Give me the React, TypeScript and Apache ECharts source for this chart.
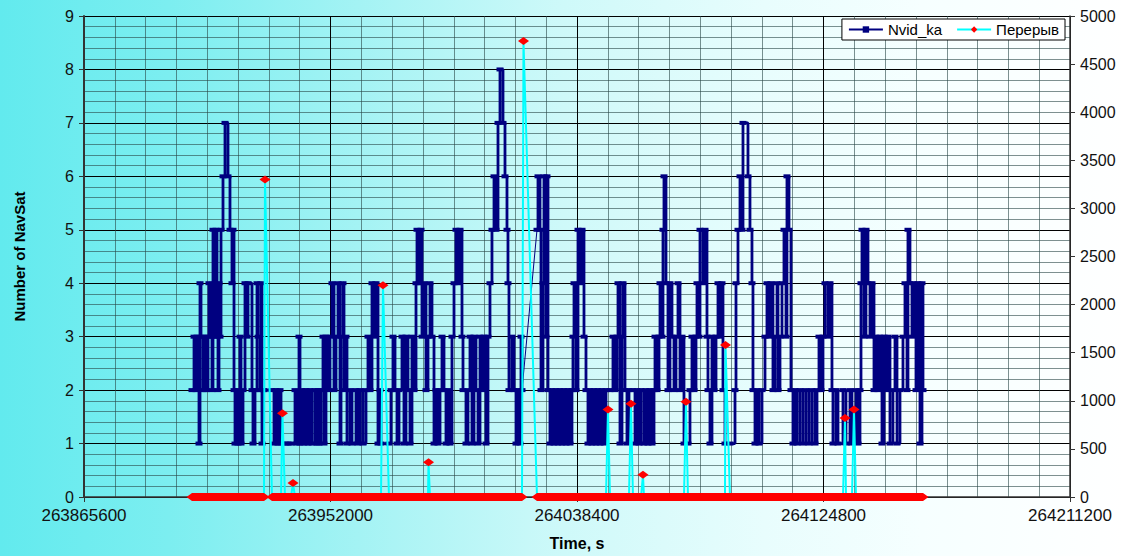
import React, { useEffect, useRef } from "react";
import * as echarts from "echarts";

// Time axis (seconds)
const T_START = 263865600;
const T_END = 264211200;
const T_INTERVAL = 86400;

// Nvid_ka: times as seconds after T_START, and number of visible satellites
// part before the data gap
const navOffsetsA = [
  37850, 38560, 39260, 39610, 40310, 40660, 41010, 41710, 42060, 42760, 43460, 43810, 44510, 44860, 45210, 45570,
  45920, 46270, 46620, 46970, 47320, 47670, 48020, 48720, 49420, 50470, 51170, 51870, 52220, 52580, 52930, 53630,
  53980, 54680, 55030, 55730, 56430, 57130, 57480, 58880, 59230, 59940, 60640, 60990, 61690, 62040, 62390, 62740,
  63090, 65890, 66600, 67300, 68000, 68700, 69050, 70450, 71500, 72550, 73960, 74660, 75360, 75710, 76410, 77110,
  77810, 78510, 79210, 79910, 80970, 81670, 82020, 82370, 83070, 83770, 84120, 84820, 85520, 86220, 86920, 87630,
  88330, 89030, 89730, 90080, 90780, 91130, 91830, 92180, 93230, 93930, 95340, 96040, 96740, 97790, 98840, 99540,
  100240, 100940, 101650, 102350, 103050, 103750, 104100, 106900, 107600, 108300, 109010, 109710, 110410, 111460,
  112160, 112860, 113560, 114260, 114960, 115670, 116370, 116720, 117420, 118120, 118470, 119170, 119870, 120570,
  121270, 121970, 122680, 123380, 124080, 124780, 125480, 126180, 126880, 127580, 128280, 128980, 129690, 130390,
  131090, 131790, 132490, 132840, 133890, 134590, 135290, 135990, 136700, 137400, 138100, 138800, 139500, 140200,
  140900, 141600, 142300, 143000, 143710, 144410, 145110, 145810, 146860, 147560, 148260, 148610, 148960, 150010,
  150720, 151420, 152120, 152820, 153170, 153520,
];
const navCountsA = [
  2, 3, 2, 3, 1, 4, 3, 2, 3, 2, 3, 4, 3, 2, 5, 3,
  4, 5, 3, 2, 4, 3, 5, 6, 7, 6, 5, 4, 5, 2, 1, 2,
  1, 3, 1, 2, 4, 3, 4, 2, 1, 2, 4, 3, 2, 4, 1, 2,
  2, 2, 1, 2, 1, 2, 1, 1, 1, 1, 2, 1, 3, 1, 2, 1,
  2, 1, 2, 1, 2, 1, 2, 1, 2, 3, 1, 3, 2, 3, 4, 2,
  3, 4, 1, 3, 4, 2, 3, 1, 2, 1, 2, 1, 2, 1, 2, 3,
  2, 4, 3, 4, 1, 2, 1, 1, 2, 3, 2, 1, 2, 3,
  1, 3, 2, 1, 3, 2, 4, 5, 4, 5, 3, 4, 2, 3,
  4, 3, 1, 2, 1, 2, 3, 2, 1, 2, 1, 3, 4, 5,
  4, 5, 3, 2, 1, 2, 3, 1, 3, 2, 1, 3, 2, 3,
  1, 3, 4, 5, 6, 5, 7, 8, 7, 6, 5, 4, 2, 3,
  2, 1, 2, 1, 3, 2,
];
// part after the data gap
const navOffsetsB = [
  158780, 159130, 159830, 160180, 160880, 161230, 161930, 162280, 162630, 163330, 164030, 164740, 165440, 166140,
  166840, 167540, 168240, 168940, 169640, 170340, 171040, 171390, 171750, 172450, 173150, 173850, 174550, 175250,
  175950, 176650, 177350, 178050, 178760, 179460, 180160, 180860, 181560, 182260, 182960, 184360, 185410, 186120,
  186820, 187170, 187870, 188570, 188920, 189620, 190320, 191020, 192420, 193130, 193830, 194530, 195230, 196280,
  196980, 197680, 198380, 199080, 199790, 200140, 200840, 201540, 201890, 202590, 202940, 203290, 203990, 204690,
  205390, 206090, 206800, 207500, 208200, 208900, 209600, 210300, 211700, 212400, 213100, 213810, 214510, 214860,
  215560, 215910, 216960, 217660, 218360, 218710, 219410, 220110, 220820, 221520, 222220, 222920, 223620, 223970,
  224670, 226420, 228180, 228530, 229230, 229930, 230630, 230980, 232730, 233430, 234130, 234480, 235190, 235890,
  236590, 237640, 238690, 239390, 240090, 240790, 241490, 242200, 242900, 243250, 243950, 244650, 245350, 246050,
  246400, 247100, 247800, 248500, 249210, 249910, 250960, 252010, 253060, 254110, 255160, 256220, 256920, 257620,
  258320, 259020, 259720, 260770, 261470, 262170, 262520, 263580, 264280, 266030, 267080, 268480, 269180, 270590,
  271290, 271990, 272340, 272690, 273390, 274090, 274790, 275490, 276190, 276900, 277600, 278300, 279000, 279700,
  280400, 281100, 281800, 282500, 283550, 284260, 284960, 286010, 287060, 287760, 288460, 288810, 289510, 290210,
  290920, 291620, 292320, 293020, 293720, 294070,
];
const navCountsB = [
  5, 6, 5, 2, 4, 6, 3, 6, 2, 1, 2, 1, 2, 1,
  2, 1, 2, 1, 2, 1, 2, 3, 4, 2, 5, 4, 5, 3,
  2, 1, 2, 1, 2, 1, 2, 1, 2, 1, 2, 2, 3, 2,
  3, 4, 1, 3, 4, 2, 1, 2, 2, 1, 2, 1, 2, 1,
  2, 1, 2, 1, 2, 3, 2, 3, 4, 3, 5, 6, 4, 2,
  4, 3, 2, 3, 4, 2, 3, 1, 1, 2, 3, 2, 3, 4,
  3, 5, 4, 5, 3, 2, 1, 3, 2, 3, 4, 3, 4, 2,
  1, 1, 2, 4, 5, 6, 5, 7, 6, 5, 4, 2, 1, 2,
  1, 2, 3, 4, 3, 4, 2, 3, 4, 2, 3, 4, 5, 3,
  6, 5, 2, 1, 2, 1, 2, 1, 2, 1, 2, 1, 2, 3,
  2, 3, 4, 3, 4, 2, 1, 2, 1, 2, 1, 2, 1, 2,
  1, 2, 4, 5, 3, 5, 4, 3, 4, 2, 3, 2, 3, 1,
  3, 2, 3, 1, 2, 3, 1, 2, 3, 4, 2, 5, 4, 3,
  4, 2, 4, 1, 4, 2,
];

// Перерыв: break peaks (seconds after T_START) and durations (right axis)
const breakOffsets = [63440, 69570, 73250, 104800, 120750, 154040, 183660, 191720, 195930, 211000, 224850, 266730, 269890];
const breakValues = [3300, 870, 145, 2200, 360, 4740, 910, 970, 230, 990, 1580, 820, 910];

const FONT = "'Liberation Sans', Arial, sans-serif";

export default function App() {
  const ref = useRef<HTMLDivElement>(null);

  useEffect(() => {
    const chart = echarts.init(ref.current!, null, { renderer: "svg" });

    const navA = navOffsetsA.map((o, i) => [T_START + o, navCountsA[i]]);
    const navB = navOffsetsB.map((o, i) => [T_START + o, navCountsB[i]]);
    const zeroPts = [...navOffsetsA, ...navOffsetsB].map((o) => [T_START + o, 0]);
    const peakPts = breakOffsets.map((o, i) => [T_START + o, breakValues[i]]);
    const breakData = [...zeroPts, ...peakPts].sort((a, b) => a[0] - b[0]);

    // the dense zero samples read as one solid red band; it is interrupted only
    // where no zero samples exist for a while after a peak
    const baseData: any[] = [];
    breakData.forEach((p, i) => {
      if (p[1] === 0) {
        baseData.push(p);
      } else {
        const next = breakData[i + 1];
        if (next && next[0] - p[0] > 2200) baseData.push([p[0], "-"]);
      }
    });

    const navyStyle = {
      type: "line",
      name: "Nvid_ka",
      yAxisIndex: 0,
      step: "end",
      symbol: "rect",
      symbolSize: [7, 4],
      showAllSymbol: true,
      lineStyle: { color: "#000080", width: 2.8 },
      itemStyle: { color: "#000080" },
      clip: false,
      silent: true,
      z: 2,
    };

    const option = {
      animation: false,
      textStyle: { fontFamily: FONT },
      grid: { left: 84, right: 54, top: 16, bottom: 57, containLabel: false },
      legend: {
        data: ["Nvid_ka", "Перерыв"],
        right: 59,
        top: 19,
        backgroundColor: "#ffffff",
        borderColor: "#000000",
        borderWidth: 1,
        borderRadius: 0,
        padding: [3, 6],
        itemWidth: 34,
        itemHeight: 8,
        itemGap: 14,
        selectedMode: false,
        textStyle: { fontSize: 15, color: "#000", fontFamily: FONT },
      },
      xAxis: {
        type: "value",
        min: T_START,
        max: T_END,
        interval: T_INTERVAL,
        name: "Time, s",
        nameLocation: "middle",
        nameGap: 38,
        nameTextStyle: { fontSize: 16, fontWeight: "bold", color: "#000", fontFamily: FONT },
        axisLine: { show: true, onZero: false, lineStyle: { color: "#333", width: 1.5 } },
        axisTick: { show: true, length: 5, lineStyle: { color: "#333" } },
        axisLabel: { formatter: (v: number) => String(v), fontSize: 17, color: "#111", margin: 10, fontFamily: FONT },
        splitLine: { show: true, lineStyle: { color: "#000", width: 1 } },
        minorTick: { show: false, splitNumber: 8 },
        minorSplitLine: { show: true, lineStyle: { color: "rgba(40,70,70,0.6)", width: 1 } },
      },
      yAxis: [
        {
          type: "value",
          position: "left",
          min: 0,
          max: 9,
          interval: 1,
          name: "Number of NavSat",
          nameLocation: "middle",
          nameGap: 57,
          nameRotate: 90,
          nameTextStyle: { fontSize: 15, fontWeight: "bold", color: "#000", fontFamily: FONT },
          axisLine: { show: true, lineStyle: { color: "#333", width: 2 } },
          axisTick: { show: true, length: 5, lineStyle: { color: "#333" } },
          axisLabel: { fontSize: 16, color: "#111", margin: 10, fontFamily: FONT },
          splitLine: { show: true, lineStyle: { color: "#000", width: 1 } },
          minorTick: { show: false, splitNumber: 5 },
          minorSplitLine: { show: true, lineStyle: { color: "rgba(40,70,70,0.6)", width: 1 } },
        },
        {
          type: "value",
          position: "right",
          min: 0,
          max: 5000,
          interval: 500,
          axisLine: { show: true, lineStyle: { color: "#333", width: 1.5 } },
          axisTick: { show: true, length: 5, lineStyle: { color: "#333" } },
          axisLabel: { formatter: (v: number) => String(v), fontSize: 16, color: "#111", margin: 10, fontFamily: FONT },
          splitLine: { show: false },
        },
      ],
      series: [
        { ...navyStyle, data: navA },
        { ...navyStyle, data: navB },
        {
          type: "line",
          name: "Nvid_ka",
          yAxisIndex: 0,
          data: [navA[navA.length - 1], navB[0]],
          symbol: "none",
          lineStyle: { color: "#000080", width: 1 },
          silent: true,
          z: 2,
        },
        {
          type: "line",
          name: "Перерыв",
          yAxisIndex: 1,
          data: breakData,
          symbol: "diamond",
          symbolSize: [11, 8],
          showAllSymbol: true,
          lineStyle: { color: "#00FFFF", width: 2 },
          itemStyle: { color: "#FF0000" },
          clip: false,
          silent: true,
          z: 3,
        },
        {
          type: "line",
          name: "_base",
          yAxisIndex: 1,
          data: baseData,
          connectNulls: false,
          symbol: "none",
          lineStyle: { color: "#FF0000", width: 8, cap: "butt" },
          clip: false,
          silent: true,
          z: 4,
        },
      ],
    };

    chart.setOption(option as any);
    return () => chart.dispose();
  }, []);

  return (
    <div
      ref={ref}
      style={{
        position: "fixed",
        left: 0,
        top: 0,
        width: 1124,
        height: 556,
        background:
          "linear-gradient(to right, #62EAEE 0%, #7CEEF0 15%, #A4F3F4 32%, #CEF9F9 50%, #E8FDFD 68%, #F6FFFF 82%, #FFFFFF 100%)",
      }}
    />
  );
}
